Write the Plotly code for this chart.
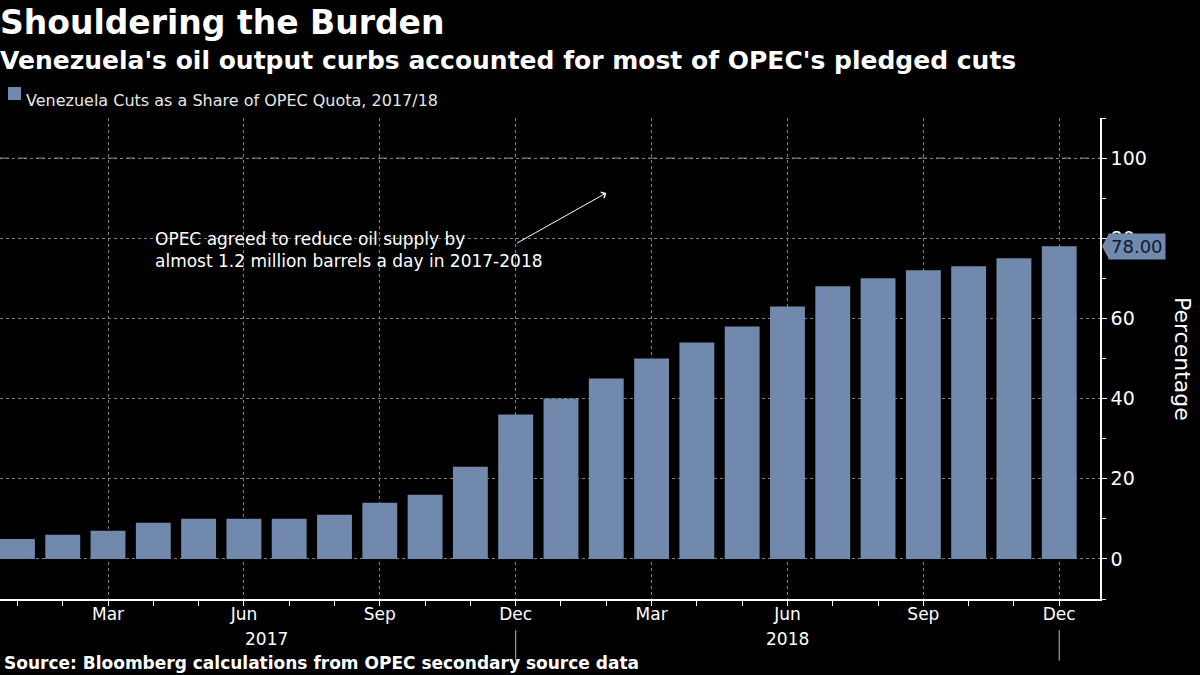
import plotly.graph_objects as go

months = ["Jan 2017", "Feb 2017", "Mar 2017", "Apr 2017", "May 2017", "Jun 2017",
          "Jul 2017", "Aug 2017", "Sep 2017", "Oct 2017", "Nov 2017", "Dec 2017",
          "Jan 2018", "Feb 2018", "Mar 2018", "Apr 2018", "May 2018", "Jun 2018",
          "Jul 2018", "Aug 2018", "Sep 2018", "Oct 2018", "Nov 2018", "Dec 2018"]
share = [5, 6, 7, 9, 10, 10, 10, 11, 14, 16, 23, 36,
         40, 45, 50, 54, 58, 63, 68, 70, 72, 73, 75, 78]
tick_pos = [2, 5, 8, 11, 14, 17, 20, 23]
tick_text = ["Mar", "Jun", "Sep", "Dec", "Mar", "Jun", "Sep", "Dec"]
years = ["2017", "2018"]
year_pos = [5.5, 17]
year_sep = [11, 23]
y_ticks = [0, 20, 40, 60, 80, 100]
target = 100
last_val = share[-1]
series_name = "Venezuela Cuts as a Share of OPEC Quota, 2017/18"

BAR = "#7189ad"
FONT = "DejaVu Sans"
idx = list(range(len(months)))

fig = go.Figure()
fig.add_trace(go.Bar(
    x=idx, y=share, width=0.77, marker=dict(color=BAR, line=dict(width=0)),
    name=series_name, hovertext=months, showlegend=False,
))

fig.update_layout(
    width=1200, height=675,
    paper_bgcolor="#000000", plot_bgcolor="#000000",
    margin=dict(l=0, r=100, t=118, b=76, autoexpand=False),
    font=dict(family=FONT, color="#ffffff"),
    showlegend=False,
    xaxis=dict(
        range=[-0.385, 23.9], tickmode="array", tickvals=tick_pos, ticktext=tick_text,
        showgrid=True, gridcolor="#808080", griddash="dot", gridwidth=1,
        showline=True, linecolor="#ffffff", linewidth=1.5,
        ticks="outside", ticklen=5, tickcolor="#ffffff", tickwidth=1,
        minor=dict(dtick=1, tick0=0, ticks="outside", ticklen=5, tickcolor="#ffffff", showgrid=False),
        tickfont=dict(size=17, color="#ffffff"), zeroline=False, fixedrange=True,
        ticklabelstandoff=-6,
    ),
    yaxis=dict(
        side="right", range=[-10, 110], tickmode="array", tickvals=y_ticks,
        showgrid=True, gridcolor="#808080", griddash="dot", gridwidth=1,
        showline=True, linecolor="#ffffff", linewidth=1.5,
        ticks="outside", ticklen=5, tickcolor="#ffffff",
        minor=dict(dtick=10, tick0=10, ticks="outside", ticklen=4, tickcolor="#ffffff", showgrid=False),
        tickfont=dict(size=19, color="#ffffff"), zeroline=False, fixedrange=True,
    ),
)

# target line at 100
fig.add_shape(type="line", xref="paper", yref="y", x0=0, x1=1, y0=target, y1=target,
              line=dict(color="#7a9a5a", width=1, dash="dash"))

# year separators
for xs in year_sep:
    fig.add_shape(type="line", xref="x", yref="paper", x0=xs, x1=xs, y0=-0.065, y1=-0.128,
                  line=dict(color="#bbbbbb", width=1))
for yr, xp in zip(years, year_pos):
    fig.add_annotation(x=xp, y=0, xref="x", yref="paper", yshift=-(639 - 599), text=yr,
                       showarrow=False, yanchor="middle", font=dict(size=17, color="#ffffff"))

# legend key (manual)
fig.add_shape(type="rect", xref="paper", yref="paper", xsizemode="pixel", ysizemode="pixel",
              xanchor=0, yanchor=1, x0=8, x1=21, y0=18, y1=31,
              fillcolor=BAR, line=dict(width=0))
fig.add_annotation(x=0, y=1, xref="paper", yref="paper", xanchor="left", yanchor="middle",
                   xshift=24, yshift=118 - 100, text=series_name, showarrow=False,
                   font=dict(size=16, color="#e6e6e6"))

# last value label
fig.add_shape(type="path", xref="paper", yref="y", xsizemode="pixel", ysizemode="pixel",
              xanchor=1, yanchor=last_val, path="M 2,0 L 9,-13 L 9,13 Z",
              fillcolor=BAR, line=dict(width=0))
fig.add_annotation(x=1, y=last_val, xref="paper", yref="y", text=f"{last_val:.2f}",
                   showarrow=False, xanchor="left", xshift=8, bgcolor=BAR, borderpad=2,
                   font=dict(size=18, color="#0b1933"))

# y-axis title
fig.add_annotation(x=1.0, xref="paper", xanchor="left", xshift=68, y=0.5, yref="paper",
                   text="Percentage", textangle=90, showarrow=False,
                   font=dict(size=22, color="#ffffff"))

# annotation text and arrow
fig.add_annotation(x=3, y=77, xref="x", yref="y", xanchor="left", yanchor="middle",
                   text="OPEC agreed to reduce oil supply by<br>almost 1.2 million barrels a day in 2017-2018",
                   showarrow=False, align="left", font=dict(size=17, color="#ffffff"))
fig.add_annotation(x=13, y=91.3, ax=11, ay=78.6, xref="x", yref="y", axref="x", ayref="y",
                   text="", showarrow=True, arrowhead=4, arrowsize=1.3, arrowwidth=1,
                   arrowcolor="#ffffff")

# titles
fig.add_annotation(x=0, y=1, xref="paper", yref="paper", xanchor="left", yanchor="middle",
                   xshift=-2, yshift=118 - 22, text="<b>Shouldering the Burden</b>", showarrow=False,
                   font=dict(size=33, color="#ffffff"))
fig.add_annotation(x=0, y=1, xref="paper", yref="paper", xanchor="left", yanchor="middle",
                   xshift=-2, yshift=118 - 60, text="<b>Venezuela's oil output curbs accounted for most of OPEC's pledged cuts</b>",
                   showarrow=False, font=dict(size=25, color="#ffffff"))
fig.add_annotation(x=0, y=0, xref="paper", yref="paper", xanchor="left", yanchor="middle",
                   xshift=2, yshift=-(663 - 599), text="<b>Source: Bloomberg calculations from OPEC secondary source data</b>",
                   showarrow=False, font=dict(size=17, color="#ffffff"))

fig.write_html("out.html")
